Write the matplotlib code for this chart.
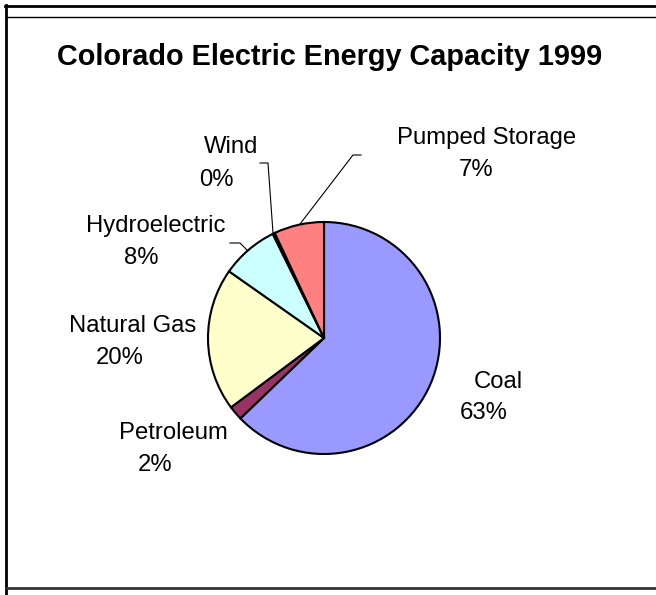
import matplotlib.pyplot as plt
from matplotlib.lines import Line2D

# capacity shares by source (percent)
sources = ["Coal", "Petroleum", "Natural Gas", "Hydroelectric", "Wind", "Pumped Storage"]
shares = [63, 2, 20, 8, 0.3, 7]
colors = ["#9999FF", "#993366", "#FFFFCC", "#CCFFFF", "#660066", "#FF8080"]

W, H = 656, 595
fig = plt.figure(figsize=(W / 100, H / 100), dpi=100)
ax = fig.add_axes([0, 0, 1, 1])
ax.set_xlim(0, W)
ax.set_ylim(0, H)
ax.set_aspect("equal")
ax.axis("off")

def py(y):
    # pixel row (from the top) -> data y
    return H - y

cx, cy, r = 324, 338, 116
ax.pie(shares, colors=colors, startangle=90, counterclock=False,
       center=(cx, py(cy)), radius=r,
       wedgeprops={"edgecolor": "black", "linewidth": 1.5})
ax.set_xlim(0, W)
ax.set_ylim(0, H)

total = sum(shares)
pcts = ["%d%%" % round(v / total * 100) for v in shares]

# label positions: (name x, name y, pct x, pct y)
label_pos = {
    "Coal": (498, 382, 484, 413),
    "Petroleum": (173, 433, 155, 465),
    "Natural Gas": (133, 326, 120, 358),
    "Hydroelectric": (156, 226, 141, 258),
    "Wind": (231, 147, 216, 180),
    "Pumped Storage": (487, 138, 476, 170),
}
font = {"family": ["Liberation Sans", "DejaVu Sans"], "size": 17.2}
for name, pct in zip(sources, pcts):
    nx, ny, px, pyy = label_pos[name]
    ax.text(nx, py(ny), name, ha="center", va="center", **font)
    ax.text(px, py(pyy), pct, ha="center", va="center", **font)

# leader lines
leaders = [
    [(260, 163), (268, 163), (273, 233)],
    [(230, 243), (240, 243), (247, 250)],
    [(361, 155), (353, 155), (300, 224)],
]
for pts in leaders:
    xs = [p[0] for p in pts]
    ys = [py(p[1]) for p in pts]
    ax.plot(xs, ys, color="black", lw=0.8)

ax.text(330, py(57), "Colorado Electric Energy Capacity 1999", ha="center", va="center",
        family=["Liberation Sans", "DejaVu Sans"], weight="bold", size=20.8)

# frame
ax.add_line(Line2D([5, W], [py(6), py(6)], color="black", lw=2))
ax.add_line(Line2D([7, W], [py(16.5), py(16.5)], color="black", lw=1))
ax.add_line(Line2D([6, 6], [py(5), 0], color="black", lw=2))
ax.add_line(Line2D([7, W], [py(588), py(588)], color="#333333", lw=2))

fig.savefig("out.png", dpi=100)
